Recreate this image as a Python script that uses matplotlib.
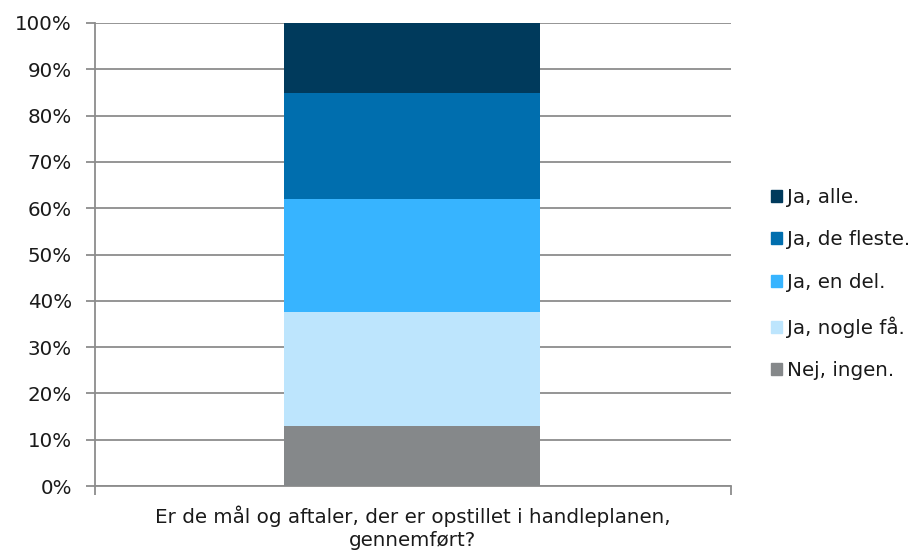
import numpy as np
import matplotlib
matplotlib.use("Agg")
import matplotlib.pyplot as plt
from matplotlib.patches import Patch

categories = ["Er de mål og aftaler, der er opstillet i handleplanen,\ngennemført?"]
labels = ["Nej, ingen.", "Ja, nogle få.", "Ja, en del.", "Ja, de fleste.", "Ja, alle."]
values = [13.0, 24.6, 24.4, 22.9, 15.1]
colors = ["#85888a", "#bde5fd", "#37b4ff", "#006eae", "#003a5c"]

plt.rcParams["font.family"] = ["DejaVu Sans"]
fs = 14.3
txt = "#1a1a1a"

fig = plt.figure(figsize=(9.24, 5.5), dpi=100)
ax = fig.add_axes([95/924, 1 - 486/550, (731-95)/924, (486-23)/550])

bottom = 0
for lab, v, c in zip(labels, values, colors):
    ax.bar(-0.0015, v, width=0.403, bottom=bottom, color=c, label=lab, zorder=3)
    bottom += v

ax.set_xlim(-0.5, 0.5)
ax.set_ylim(0, 100)
ax.set_yticks(np.arange(0, 101, 10))
ax.set_yticklabels([f"{t}%" for t in range(0, 101, 10)], fontsize=fs, color=txt)
ax.yaxis.grid(True, color="#8c8c8c", linewidth=1.3, zorder=0)
ax.tick_params(axis="y", length=6.5, width=1.3, color="#8c8c8c", pad=10)

ax.set_xticks([-0.5, 0.5])
ax.set_xticklabels(["", ""])
ax.tick_params(axis="x", which="major", length=6.5, width=1.3, color="#8c8c8c")
ax.set_xticks([0], minor=True)
ax.set_xticklabels(categories, minor=True, fontsize=fs, color=txt, linespacing=1.3)
ax.tick_params(axis="x", which="minor", length=0, pad=14)

for s in ["top", "right"]:
    ax.spines[s].set_visible(False)
for s in ["left", "bottom"]:
    ax.spines[s].set_color("#8c8c8c")
    ax.spines[s].set_linewidth(1.3)

handles = [Patch(color=c, label=l) for l, c in zip(labels, colors)][::-1]
fig.legend(handles=handles, loc="center left", bbox_to_anchor=(753/924, 1 - 284/550),
           frameon=False, fontsize=fs, handlelength=0.55, handleheight=0.55,
           handletextpad=0.25, labelspacing=1.2, labelcolor=txt)

fig.savefig("out.png", dpi=100)
